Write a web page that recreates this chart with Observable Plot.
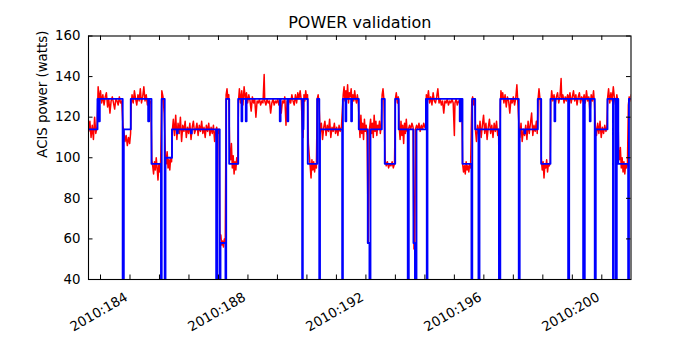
<!DOCTYPE html>
<html>
<head>
<meta charset="utf-8">
<script src="https://cdn.jsdelivr.net/npm/d3@7"></script>
<script src="https://cdn.jsdelivr.net/npm/@observablehq/plot@0.6"></script>
<style>
  html, body { margin: 0; padding: 0; background: #ffffff; }
  #chart svg { display: block; }
</style>
</head>
<body>
<div id="chart"></div>
<script>
// ---- Data (day-of-year 2010, watts) ----
const chartTitle = "POWER validation";
const yLabel = "ACIS power (watts)";
const dayTicks = [183,184,185,186,187,188,189,190,191,192,193,194,195,196,197,198,199,200];
const labeledDays = [184,188,192,196,200];
const wattTicks = [40,60,80,100,120,140,160];

// Model (blue step line): change points
const modelDay = [182.593,182.898,182.942,182.976,183.752,183.790,184.027,184.617,184.651,184.729,
  185.051,185.075,185.177,185.204,185.424,185.594,185.621,186.068,186.096,186.923,
  186.960,187.042,187.069,187.238,187.262,187.364,187.669,187.781,187.808,187.927,
  187.954,189.080,189.107,189.341,189.368,189.839,189.860,189.883,190.029,190.348,
  190.419,190.443,191.196,191.219,191.308,191.335,191.501,191.528,191.759,192.064,
  192.121,192.155,192.539,192.640,192.993,193.112,193.420,193.454,193.613,193.664,
  193.715,194.037,194.065,194.088,195.183,195.211,195.275,195.580,195.607,195.706,
  195.818,195.852,196.513,196.557,197.184,197.215,197.377,197.405,197.829,197.944,
  198.259,198.395,198.422,198.859,198.893,199.368,199.422,199.592,199.619,199.761,
  199.795,200.192,200.379,200.405,200.480,200.507,200.558,200.894,200.921,200.990];
const modelWatts = [114,129,118,129,0,114,129,118,129,97,
  0,129,0,100,114,112,114,112,114,0,
  114,0,58,0,129,97,129,118,129,118,
  129,118,129,118,129,0,114,129,97,129,
  0,114,0,129,118,129,118,129,114,58,
  0,114,129,97,129,114,0,114,58,0,
  114,129,0,129,118,129,97,0,129,114,
  0,114,0,129,0,114,112,114,129,97,
  129,118,129,0,129,0,129,118,129,0,
  114,129,0,129,0,129,97,0,129,129];

// Telemetry (red noisy line): [day, watts]
const telemetry = [
  [182.60,113],[182.64,118],[182.68,110],[182.72,116],[182.76,109],[182.80,120],[182.84,112],[182.88,115],[182.90,124],
  [182.92,135],[182.96,128],[183.00,133],[183.04,127],[183.08,131],[183.12,126],[183.16,130],[183.20,132],[183.24,125],[183.28,129],[183.32,122],[183.36,128],[183.40,130],[183.44,127],[183.48,124],[183.52,129],[183.56,128],[183.60,126],[183.64,130],[183.68,127],[183.72,128],
  [183.76,116],[183.79,113],[183.83,108],[183.87,111],[183.91,106],[183.95,110],[183.99,107],[184.02,112],
  [184.04,126],[184.07,131],[184.11,127],[184.15,133],[184.19,129],[184.23,126],[184.27,131],[184.31,128],[184.35,134],[184.39,127],[184.43,130],[184.47,135],[184.51,128],[184.55,131],[184.59,126],[184.63,129],[184.67,127],[184.71,128],
  [184.74,99],[184.77,96],[184.80,92],[184.83,98],[184.86,94],[184.89,100],[184.92,95],[184.95,89],[184.98,97],[185.01,93],[185.04,98],
  [185.08,133],[185.12,130],[185.16,122],
  [185.20,101],[185.23,97],[185.26,103],[185.29,95],[185.32,99],[185.35,94],[185.38,100],[185.41,98],
  [185.44,114],[185.47,119],[185.51,111],[185.55,121],[185.59,109],[185.63,117],[185.67,112],[185.71,120],[185.75,108],[185.79,116],[185.83,113],[185.87,118],[185.91,110],[185.95,115],[185.99,112],[186.03,117],[186.07,109],[186.11,115],[186.15,118],[186.19,112],[186.23,114],[186.27,117],[186.31,111],[186.35,116],[186.39,113],[186.43,118],[186.47,112],[186.51,115],[186.55,110],[186.59,116],[186.63,113],[186.67,117],[186.71,111],[186.75,115],[186.79,112],[186.83,116],[186.87,108],[186.90,113],
  [186.94,115],[186.98,112],[187.02,114],[187.05,60],[187.08,62],[187.11,57],[187.14,59],[187.17,56],[187.20,60],[187.23,58],
  [187.26,131],[187.29,134],[187.32,129],[187.35,131],
  [187.38,104],[187.41,99],[187.44,107],[187.47,95],[187.50,101],[187.53,92],[187.56,98],[187.59,94],[187.62,100],[187.65,97],
  [187.68,128],[187.71,134],[187.75,127],[187.79,133],[187.83,126],[187.87,135],[187.91,129],[187.95,132],[187.99,127],[188.03,131],[188.07,128],[188.11,123],[188.15,130],[188.19,127],[188.23,129],[188.27,120],[188.31,128],[188.35,127],[188.39,129],[188.43,126],[188.47,128],[188.51,127],[188.55,141],[188.57,128],[188.61,126],[188.65,129],[188.69,127],[188.73,128],[188.77,122],[188.81,127],[188.85,129],[188.89,126],[188.93,128],[188.97,127],[189.01,129],[189.05,126],[189.09,128],[189.13,122],[189.17,128],[189.21,127],[189.25,130],[189.29,116],[189.33,128],[189.37,126],[189.41,129],[189.45,127],[189.49,131],[189.53,128],[189.57,126],[189.61,131],[189.65,127],[189.69,132],[189.73,129],[189.77,133],[189.81,128],
  [189.85,113],[189.87,110],[189.90,131],[189.93,128],[189.96,133],[189.99,129],[190.02,131],
  [190.05,107],[190.08,101],[190.11,96],[190.14,90],[190.17,99],[190.20,94],[190.23,98],[190.26,93],[190.29,97],[190.32,95],
  [190.35,129],[190.38,131],[190.41,127],
  [190.45,112],[190.49,117],[190.53,109],[190.57,115],[190.61,118],[190.65,111],[190.69,116],[190.73,113],[190.77,119],[190.81,110],[190.85,115],[190.89,113],[190.93,117],[190.97,112],[191.01,115],[191.05,111],[191.09,116],[191.13,113],[191.17,115],
  [191.23,131],[191.26,135],[191.29,128],[191.32,133],[191.35,129],[191.38,136],[191.41,127],[191.44,132],[191.47,130],[191.50,134],[191.53,126],[191.56,131],[191.59,128],[191.62,133],[191.65,129],[191.68,127],[191.71,131],[191.74,128],
  [191.77,118],[191.80,110],[191.83,121],[191.86,112],[191.89,117],[191.92,109],[191.95,119],[191.98,113],[192.01,116],[192.04,111],
  [192.08,58],[192.12,114],
  [192.16,119],[192.19,112],[192.22,117],[192.25,110],[192.28,121],[192.31,113],[192.34,118],[192.37,111],[192.40,116],[192.43,114],[192.46,118],[192.49,112],[192.52,116],
  [192.55,131],[192.58,134],[192.61,129],
  [192.65,99],[192.69,96],[192.73,98],[192.77,95],[192.81,97],[192.85,96],[192.89,98],[192.93,95],[192.97,97],
  [193.00,129],[193.03,132],[193.07,127],[193.10,130],
  [193.13,115],[193.16,109],[193.19,118],[193.22,111],[193.25,116],[193.28,107],[193.31,117],[193.34,112],[193.37,119],[193.40,113],
  [193.44,114],[193.48,116],[193.52,114],[193.56,117],[193.60,115],[193.63,55],[193.66,58],[193.68,114],
  [193.72,116],[193.76,114],[193.80,117],[193.84,113],[193.88,116],[193.92,114],[193.96,117],[194.00,115],[194.03,116],
  [194.05,131],[194.08,128],[194.12,133],[194.16,127],[194.20,130],[194.24,126],[194.28,132],[194.32,128],[194.36,127],[194.40,130],[194.44,134],[194.48,127],[194.52,129],[194.56,126],[194.60,128],[194.64,122],[194.68,128],[194.72,127],[194.76,129],[194.80,126],[194.84,128],[194.88,127],[194.92,129],[194.96,127],[195.00,111],[195.02,127],[195.06,129],[195.10,126],[195.14,128],[195.18,127],[195.22,129],[195.25,128],
  [195.28,97],[195.31,93],[195.34,96],[195.37,92],[195.40,98],[195.43,94],[195.46,96],[195.49,93],[195.52,97],[195.55,95],
  [195.59,128],[195.62,130],[195.66,126],[195.69,129],
  [195.72,113],[195.75,108],[195.79,116],[195.83,111],[195.87,118],[195.91,110],[195.95,116],[195.99,121],[196.03,112],[196.07,117],[196.11,109],[196.15,115],[196.19,119],[196.23,112],[196.27,116],[196.31,110],[196.35,117],[196.39,113],[196.43,118],[196.47,111],[196.50,114],
  [196.53,57],[196.56,126],
  [196.58,133],[196.61,129],[196.64,132],[196.68,127],[196.72,131],[196.76,125],[196.80,130],[196.84,128],[196.88,122],[196.92,129],[196.96,127],[197.00,130],[197.04,126],[197.08,129],[197.12,136],[197.15,128],
  [197.19,116],[197.22,110],[197.26,117],[197.30,108],[197.34,114],[197.38,111],[197.42,116],[197.46,109],[197.50,118],[197.54,112],[197.58,117],[197.62,122],[197.66,111],[197.70,116],[197.74,113],[197.78,118],[197.81,112],
  [197.84,129],[197.87,134],[197.91,128],
  [197.95,99],[197.98,94],[198.01,98],[198.04,90],[198.07,97],[198.10,95],[198.13,99],[198.16,93],[198.19,97],[198.22,96],[198.25,98],
  [198.27,127],[198.30,133],[198.34,128],[198.38,131],[198.42,126],[198.46,130],[198.50,132],[198.54,127],[198.58,130],[198.62,139],[198.64,129],[198.68,131],[198.72,127],[198.76,130],[198.80,128],[198.84,131],
  [198.88,129],[198.92,132],[198.96,127],[199.00,130],[199.04,133],[199.08,128],[199.12,131],[199.16,126],[199.20,130],[199.24,132],[199.28,127],[199.32,130],[199.36,128],
  [199.40,131],[199.44,127],[199.48,133],[199.52,128],[199.56,130],[199.60,122],[199.64,131],[199.68,128],[199.72,133],[199.75,127],
  [199.78,116],[199.82,111],[199.86,117],[199.90,112],[199.94,118],[199.98,110],[200.02,115],[200.06,112],[200.10,116],[200.14,113],[200.17,115],
  [200.20,130],[200.23,134],[200.27,127],[200.31,132],[200.35,128],[200.39,135],[200.43,129],[200.47,126],[200.51,131],[200.54,128],
  [200.57,104],[200.60,99],[200.63,105],[200.66,95],[200.69,100],[200.72,93],[200.75,98],[200.78,92],[200.81,97],[200.84,95],[200.87,97],
  [200.90,126],[200.93,130],[200.96,128],[200.99,131]
];

// ---- Layout ----
const W = 700, H = 350;
const ML = 88, MR = 69.5, MT = 35.5, MB = 71;
const FW = W - ML - MR, FH = H - MT - MB;
const TICK = 4.5;

const model = modelDay.map((d, i) => ({day: d, watts: modelWatts[i]}));

const chart = Plot.plot({
  width: W, height: H,
  marginLeft: ML, marginRight: MR, marginTop: MT, marginBottom: MB,
  style: {fontFamily: "'DejaVu Sans', sans-serif", fontSize: "13.33px", background: "#ffffff", color: "#000000"},
  x: {type: "linear", domain: [182.593, 200.99], axis: null},
  y: {type: "linear", domain: [40, 160], axis: null},
  marks: [
    Plot.line(telemetry, {x: d => d[0], y: d => d[1], stroke: "#ff0000", strokeWidth: 1.5, clip: true}),
    Plot.line(model, {x: "day", y: "watts", curve: "step-after", stroke: "#0000ff", strokeWidth: 1.9, clip: true}),
    Plot.ruleX(dayTicks, {x: d => d, insetTop: FH - TICK, stroke: "#000"}),
    Plot.ruleX(dayTicks, {x: d => d, insetBottom: FH - TICK, stroke: "#000"}),
    Plot.ruleY(wattTicks, {y: d => d, insetRight: FW - TICK, stroke: "#000"}),
    Plot.ruleY(wattTicks, {y: d => d, insetLeft: FW - TICK, stroke: "#000"}),
    Plot.frame({stroke: "#000", strokeWidth: 1.1}),
    Plot.text(labeledDays, {x: d => d, text: d => `2010:${d}`, frameAnchor: "bottom", rotate: -30, textAnchor: "end", lineAnchor: "top", dx: -6, dy: 12, fill: "#000"}),
    Plot.text(wattTicks, {y: d => d, text: d => String(d), frameAnchor: "left", textAnchor: "end", lineAnchor: "middle", dx: -8, fill: "#000"}),
    Plot.text([yLabel], {text: d => d, frameAnchor: "left", rotate: -90, lineAnchor: "middle", dx: -45.5, fill: "#000"}),
    Plot.text([chartTitle], {text: d => d, frameAnchor: "top", lineAnchor: "middle", dy: -13, fontSize: 16, fill: "#000"})
  ]
});
document.getElementById("chart").appendChild(chart);
</script>
</body>
</html>
